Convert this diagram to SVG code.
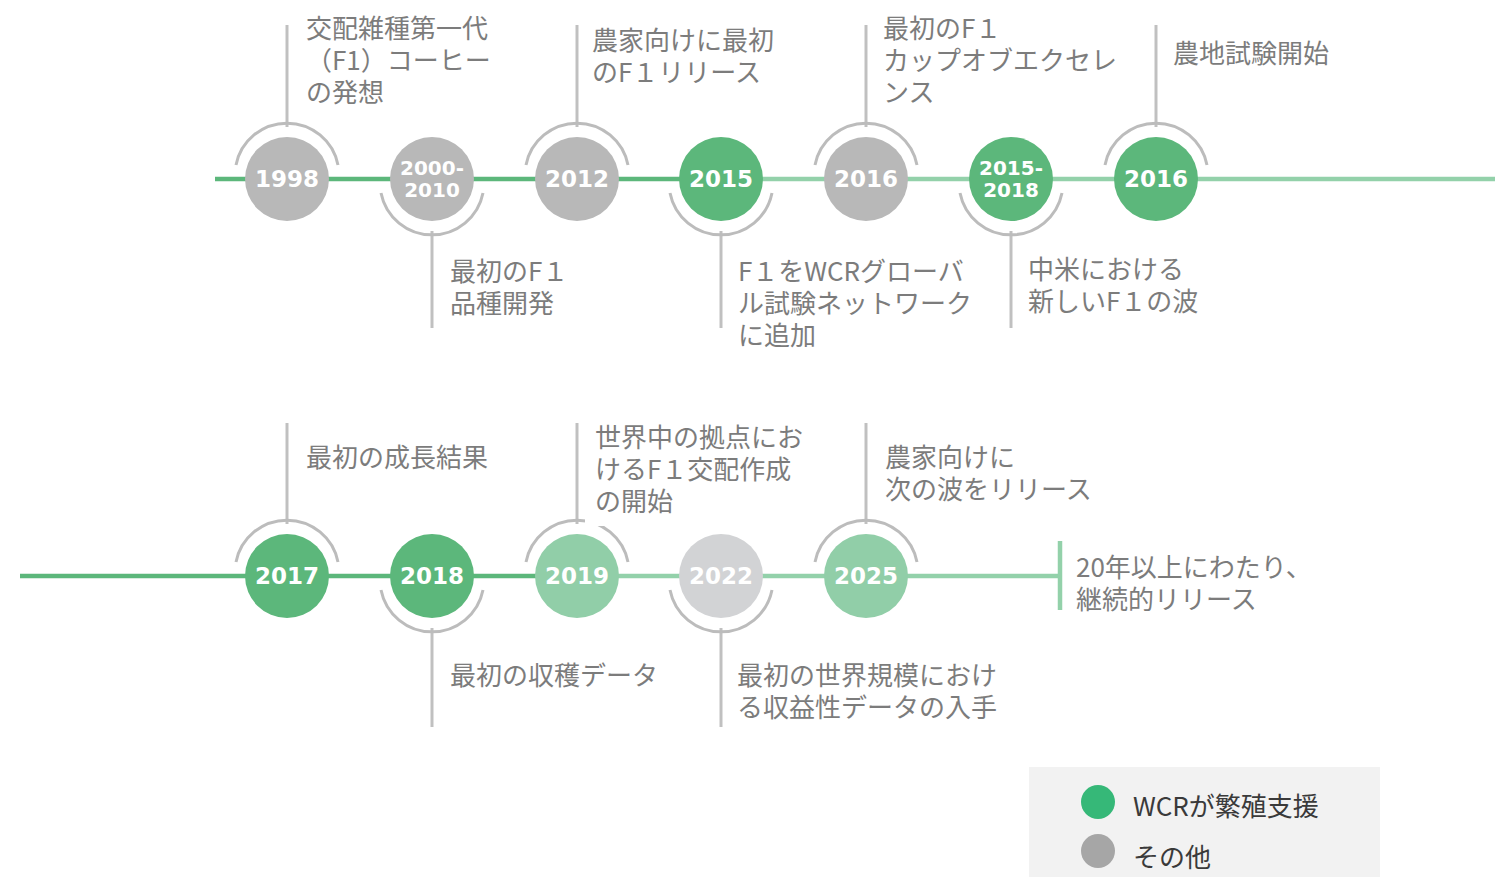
<svg xmlns="http://www.w3.org/2000/svg" width="1495" height="877" viewBox="0 0 1495 877">
<style>
.desc{font-family:"Noto Sans CJK JP","Noto Sans",sans-serif;font-size:26px;fill:#7c7c7c}
.yr{font-family:"DejaVu Sans",sans-serif;font-weight:bold;font-size:23px;fill:#ffffff;text-anchor:middle}
.yr2{font-family:"DejaVu Sans",sans-serif;font-weight:bold;font-size:20px;fill:#ffffff;text-anchor:middle}
.arc{fill:none;stroke:#bcbcbc;stroke-width:3}
.stem{stroke:#c0c0c0;stroke-width:3}
.dg{fill:#5cb77b}
.gr{fill:#b8b8b8}
.lg{fill:#91cea8}
.lgr{fill:#d2d3d5}
.leg{font-family:"Noto Sans CJK JP","Noto Sans",sans-serif;font-size:26px;fill:#3a3a3a}
</style>
<rect width="1495" height="877" fill="#ffffff"/>
<g id="connectors">
<line x1="215" y1="179" x2="721" y2="179" stroke="#5cb77b" stroke-width="4.5"/>
<line x1="721" y1="179" x2="1495" y2="179" stroke="#93d1aa" stroke-width="4.5"/>
<line x1="20" y1="576" x2="577" y2="576" stroke="#5cb77b" stroke-width="4.5"/>
<line x1="577" y1="576" x2="1060" y2="576" stroke="#93d1aa" stroke-width="4.5"/>
<line x1="1060" y1="541" x2="1060" y2="610" stroke="#93d1aa" stroke-width="4.5"/>
</g>
<g id="n1998">
<line class="stem" x1="287" y1="25" x2="287" y2="127"/>
<path class="arc" d="M236 165 A52 52 0 0 1 338 165"/>
<circle class="gr" cx="287" cy="179" r="42"/>
<text class="yr" x="287" y="187">1998</text>
<text class="desc" x="306" y="38">交配雑種第一代</text>
<text class="desc" x="306" y="70">（F1）コーヒー</text>
<text class="desc" x="306" y="102">の発想</text>
</g>
<g id="n2000">
<line class="stem" x1="432" y1="231" x2="432" y2="328"/>
<path class="arc" d="M381 193 A52 52 0 0 0 483 193"/>
<circle class="gr" cx="432" cy="179" r="42"/>
<text class="yr2" x="432" y="175">2000-</text>
<text class="yr2" x="432" y="197">2010</text>
<text class="desc" x="450" y="281">最初のF１</text>
<text class="desc" x="450" y="313">品種開発</text>
</g>
<g id="n2012">
<line class="stem" x1="577" y1="25" x2="577" y2="127"/>
<path class="arc" d="M526 165 A52 52 0 0 1 628 165"/>
<circle class="gr" cx="577" cy="179" r="42"/>
<text class="yr" x="577" y="187">2012</text>
<text class="desc" x="592" y="50">農家向けに最初</text>
<text class="desc" x="592" y="82">のF１リリース</text>
</g>
<g id="n2015">
<line class="stem" x1="721" y1="231" x2="721" y2="328"/>
<path class="arc" d="M670 193 A52 52 0 0 0 772 193"/>
<circle class="dg" cx="721" cy="179" r="42"/>
<text class="yr" x="721" y="187">2015</text>
<text class="desc" x="738" y="281">F１をWCRグローバ</text>
<text class="desc" x="738" y="313">ル試験ネットワーク</text>
<text class="desc" x="738" y="345">に追加</text>
</g>
<g id="n2016a">
<line class="stem" x1="866" y1="25" x2="866" y2="127"/>
<path class="arc" d="M815 165 A52 52 0 0 1 917 165"/>
<circle class="gr" cx="866" cy="179" r="42"/>
<text class="yr" x="866" y="187">2016</text>
<text class="desc" x="883" y="38">最初のF１</text>
<text class="desc" x="883" y="70">カップオブエクセレ</text>
<text class="desc" x="883" y="102">ンス</text>
</g>
<g id="n2015_2018">
<line class="stem" x1="1011" y1="231" x2="1011" y2="328"/>
<path class="arc" d="M960 193 A52 52 0 0 0 1062 193"/>
<circle class="dg" cx="1011" cy="179" r="42"/>
<text class="yr2" x="1011" y="175">2015-</text>
<text class="yr2" x="1011" y="197">2018</text>
<text class="desc" x="1028" y="279">中米における</text>
<text class="desc" x="1028" y="311">新しいF１の波</text>
</g>
<g id="n2016b">
<line class="stem" x1="1156" y1="25" x2="1156" y2="127"/>
<path class="arc" d="M1105 165 A52 52 0 0 1 1207 165"/>
<circle class="dg" cx="1156" cy="179" r="42"/>
<text class="yr" x="1156" y="187">2016</text>
<text class="desc" x="1173" y="63">農地試験開始</text>
</g>
<g id="n2017">
<line class="stem" x1="287" y1="423" x2="287" y2="524"/>
<path class="arc" d="M236 562 A52 52 0 0 1 338 562"/>
<circle class="dg" cx="287" cy="576" r="42"/>
<text class="yr" x="287" y="584">2017</text>
<text class="desc" x="306" y="467">最初の成長結果</text>
</g>
<g id="n2018">
<line class="stem" x1="432" y1="628" x2="432" y2="727"/>
<path class="arc" d="M381 590 A52 52 0 0 0 483 590"/>
<circle class="dg" cx="432" cy="576" r="42"/>
<text class="yr" x="432" y="584">2018</text>
<text class="desc" x="450" y="685">最初の収穫データ</text>
</g>
<g id="n2019">
<line class="stem" x1="577" y1="423" x2="577" y2="524"/>
<path class="arc" d="M526 562 A52 52 0 0 1 628 562"/>
<rect x="585" y="505" width="225" height="21" fill="#ffffff"/>
<circle class="lg" cx="577" cy="576" r="42"/>
<text class="yr" x="577" y="584">2019</text>
<text class="desc" x="595" y="447">世界中の拠点にお</text>
<text class="desc" x="595" y="479">けるF１交配作成</text>
<text class="desc" x="595" y="511">の開始</text>
</g>
<g id="n2022">
<line class="stem" x1="721" y1="628" x2="721" y2="727"/>
<path class="arc" d="M670 590 A52 52 0 0 0 772 590"/>
<circle class="lgr" cx="721" cy="576" r="42"/>
<text class="yr" x="721" y="584">2022</text>
<text class="desc" x="737" y="685">最初の世界規模におけ</text>
<text class="desc" x="737" y="717">る収益性データの入手</text>
</g>
<g id="n2025">
<line class="stem" x1="866" y1="423" x2="866" y2="524"/>
<path class="arc" d="M815 562 A52 52 0 0 1 917 562"/>
<circle class="lg" cx="866" cy="576" r="42"/>
<text class="yr" x="866" y="584">2025</text>
<text class="desc" x="885" y="467">農家向けに</text>
<text class="desc" x="885" y="499">次の波をリリース</text>
</g>
<g id="end">
<text class="desc" x="1076" y="577">20年以上にわたり、</text>
<text class="desc" x="1076" y="609">継続的リリース</text>
</g>
<g id="legend">
<rect x="1029" y="767" width="351" height="110" fill="#f2f2f2"/>
<circle cx="1098" cy="802" r="17" fill="#36b878"/>
<circle cx="1098" cy="851" r="17" fill="#a6a6a6"/>
<text class="leg" x="1133" y="816">WCRが繁殖支援</text>
<text class="leg" x="1133" y="867">その他</text>
</g>
</svg>
